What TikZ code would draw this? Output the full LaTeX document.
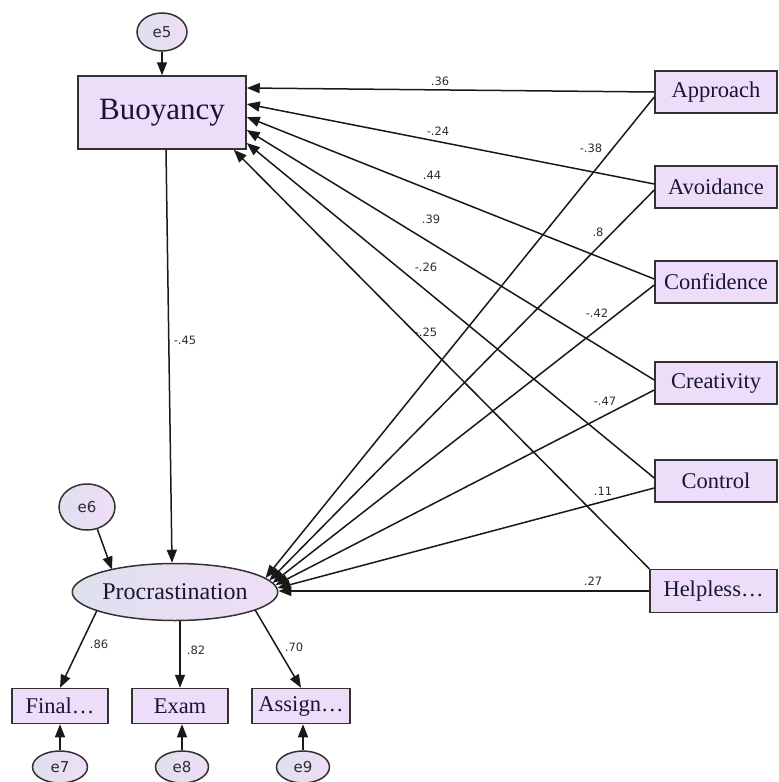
\documentclass[tikz,border=0pt]{standalone}
\usepackage{fontspec}
\setmainfont{Liberation Serif}
\newfontfamily\lblfont{DejaVu Sans}
\usetikzlibrary{arrows.meta,shapes.geometric,calc}
\definecolor{boxfill}{RGB}{237,221,248}
\definecolor{ellL}{RGB}{222,224,238}
\definecolor{ellR}{RGB}{240,221,246}
\definecolor{txt}{RGB}{24,22,52}
\definecolor{lbl}{RGB}{45,45,45}
\definecolor{edge}{RGB}{50,50,50}
\begin{document}
\begin{tikzpicture}[x=1pt,y=-1pt,
  obs/.style={draw=edge,line width=1.5pt,fill=boxfill,rectangle,inner sep=0pt,text=txt,font=\fontsize{22.5}{24}\selectfont},
  lat/.style={draw=edge,line width=1.5pt,ellipse,inner sep=0pt,left color=ellL,right color=ellR,text=txt},
  err/.style={lat,font=\lblfont\fontsize{15}{16}\selectfont,text=lbl},
  arr/.style={draw=black!90,line width=1.5pt,-{Triangle[length=13pt,width=10pt]}},
  lbl/.style={font=\lblfont\fontsize{11.5}{12}\selectfont,text=lbl,inner sep=0pt}]
\useasboundingbox (0,0) rectangle (779,782);
% nodes
\node[err,minimum width=50,minimum height=38] (e5) at (162,32) {e5};
\node[obs,minimum width=168,minimum height=73,font=\fontsize{31}{33}\selectfont] (buoy) at (162,112.5) {Buoyancy};
\node[obs,minimum width=122,minimum height=42] (appr) at (716,92) {Approach};
\node[obs,minimum width=122,minimum height=42] (avoid) at (716,187) {Avoidance};
\node[obs,minimum width=122,minimum height=42] (conf) at (716,282) {Confidence};
\node[obs,minimum width=122,minimum height=42] (creat) at (716,383) {Creativity};
\node[obs,minimum width=122,minimum height=42] (ctrl) at (716,481) {Control};
\node[obs,minimum width=127,minimum height=43] (help) at (713.5,591) {Helpless\dots};
\node[lat,minimum width=204,minimum height=57,font=\fontsize{24}{25}\selectfont] (proc) at (175,592) {Procrastination};
\node[err,minimum width=56,minimum height=46] (e6) at (87,507) {e6};
\node[obs,minimum width=96,minimum height=35] (final) at (60,706) {Final\dots};
\node[obs,minimum width=96,minimum height=35] (exam) at (180,706) {Exam};
\node[obs,minimum width=98,minimum height=35] (assign) at (301,706) {Assign\dots};
\node[err,minimum width=55,minimum height=32] (e7) at (60,767) {e7};
\node[err,minimum width=53,minimum height=32] (e8) at (182,767) {e8};
\node[err,minimum width=53,minimum height=32] (e9) at (303,767) {e9};
% connectors to Buoyancy
\draw[arr] (e5) -- (buoy.north);
\draw[arr] (appr.west) -- ([yshift=24.5]buoy.east);
\draw[arr] ([yshift=3]avoid.west) -- ([yshift=8.5]buoy.east);
\draw[arr] ([yshift=3]conf.west) -- ([yshift=-4.5]buoy.east);
\draw[arr] ([yshift=3]creat.west) -- ([yshift=-17.5]buoy.east);
\draw[arr] ([yshift=3]ctrl.west) -- ([yshift=-30.5]buoy.east);
\draw[arr] (help.north west) -- ([xshift=-13]buoy.south east);
% connectors to Procrastination
\draw[arr] ([xshift=4]buoy.south) -- ([xshift=-3]proc.north);
\draw[arr] ([yshift=-5]appr.west) -- ([xshift=-13,yshift=14]proc.east);
\draw[arr] ([yshift=-3]avoid.west) -- ([xshift=-9,yshift=11.5]proc.east);
\draw[arr] ([yshift=-3]conf.west) -- ([xshift=-6,yshift=9]proc.east);
\draw[arr] ([yshift=-7]creat.west) -- ([xshift=-3,yshift=7]proc.east);
\draw[arr] ([yshift=-7]ctrl.west) -- ([xshift=-1,yshift=4]proc.east);
\draw[arr] (help.west) -- ([yshift=1]proc.east);
\draw[arr] (e6.-65) -- ([xshift=-63,yshift=22.4]proc.center);
% indicators
\draw[arr] ([xshift=-78,yshift=-18.4]proc.center) -- (final.north);
\draw[arr] ([xshift=5]proc.south) -- (exam.north);
\draw[arr] ([xshift=80,yshift=-17.7]proc.center) -- (assign.north);
\draw[arr] (e7) -- (final.south);
\draw[arr] (e8) -- ([xshift=2]exam.south);
\draw[arr] (e9) -- ([xshift=2]assign.south);
% labels
\node[lbl] (l1) at (440,81) {.36};
\node[lbl] (l2) at (438,131) {-.24};
\node[lbl] (l3) at (432,175) {.44};
\node[lbl] (l4) at (431,219) {.39};
\node[lbl] (l5) at (426,267) {-.26};
\node[lbl] (l6) at (426,332) {-.25};
\node[lbl] (l7) at (591,148) {-.38};
\node[lbl] (l8) at (598,232) {.8};
\node[lbl] (l9) at (597,313) {-.42};
\node[lbl] (l10) at (605,401) {-.47};
\node[lbl] (l11) at (603,491) {.11};
\node[lbl] (l12) at (593,581) {.27};
\node[lbl] (l13) at (185,340) {-.45};
\node[lbl] (l14) at (99,644) {.86};
\node[lbl] (l15) at (196,650) {.82};
\node[lbl] (l16) at (294,647) {.70};
\end{tikzpicture}
\end{document}
